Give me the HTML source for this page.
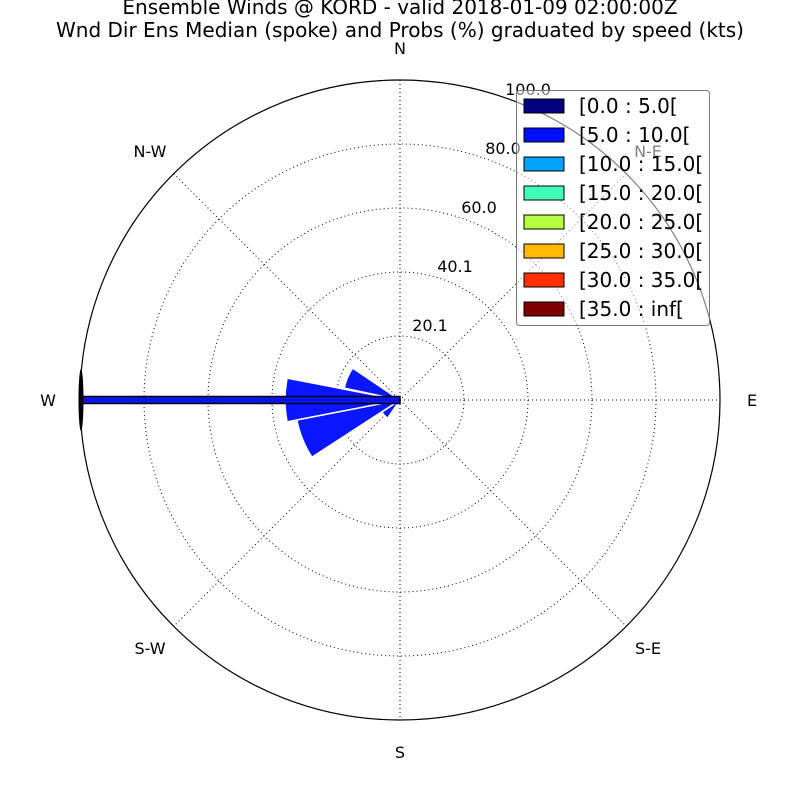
<!DOCTYPE html>
<html><head><meta charset="utf-8"><style>body{margin:0;background:#fff}svg{display:block}text{font-family:"DejaVu Sans","Liberation Sans",sans-serif}</style></head><body>
<svg width="800" height="800" viewBox="0 0 800 800">
<rect width="800" height="800" fill="#fff"/>
<text x="400" y="14" font-size="20" text-anchor="middle">Ensemble Winds @ KORD - valid 2018-01-09 02:00:00Z</text>
<text x="400" y="37" font-size="20" text-anchor="middle">Wnd Dir Ens Median (spoke) and Probs (%) graduated by speed (kts)</text>
<g fill="none" stroke="#000" stroke-width="1" stroke-dasharray="1,3">
<circle cx="400" cy="400" r="64"/><circle cx="400" cy="400" r="128"/><circle cx="400" cy="400" r="192"/><circle cx="400" cy="400" r="256"/>
<line x1="400" y1="80" x2="400" y2="720"/><line x1="80" y1="400" x2="720" y2="400"/>
<line x1="173.7" y1="173.7" x2="626.3" y2="626.3"/><line x1="626.3" y1="173.7" x2="173.7" y2="626.3"/>
</g>
<circle cx="400" cy="400" r="320" fill="none" stroke="#000" stroke-width="1.2"/>
<g fill="#0a16ff" stroke="#fff" stroke-width="1.5">
<path d="M400,400 L287.1,378.1 A115,115 0 0 0 287.1,421.9 Z"/>
<path d="M400,400 L352.7,368.1 A57,57 0 0 0 344.2,388.1 Z"/>
<path d="M400,400 L296.9,420 A105,105 0 0 0 311.9,457.2 Z"/>
<path d="M400,400 L381.8,412.3 A22,22 0 0 0 387.7,418.2 Z"/>
</g>
<rect x="81" y="396.5" width="319" height="7" fill="#0a16ff" stroke="#000" stroke-width="1.5"/>
<line x1="82" y1="400" x2="400" y2="400" stroke="#000" stroke-width="1" stroke-dasharray="1,3"/>
<ellipse cx="81" cy="400" rx="2.5" ry="31" fill="#000"/>
<g font-size="16" text-anchor="middle">
<text x="400" y="54">N</text><text x="648" y="157">N-E</text><text x="752" y="406">E</text>
<text x="648" y="654">S-E</text><text x="400" y="758">S</text><text x="150" y="654">S-W</text>
<text x="48" y="406">W</text><text x="150" y="157">N-W</text>
<text x="430" y="331">20.1</text><text x="455" y="272">40.1</text><text x="479" y="213">60.0</text>
<text x="503" y="154">80.0</text><text x="528" y="95">100.0</text>
</g>
<rect x="516.5" y="90.5" width="193" height="235" rx="3" fill="#fff" fill-opacity="0.5" stroke="#777" stroke-width="1"/>
<g stroke="#000" stroke-width="1">
<rect x="524" y="99" width="40" height="14" fill="#000080"/>
<rect x="524" y="128" width="40" height="14" fill="#0010ff"/>
<rect x="524" y="157" width="40" height="14" fill="#00a4ff"/>
<rect x="524" y="186" width="40" height="14" fill="#40ffb7"/>
<rect x="524" y="215" width="40" height="14" fill="#b7ff40"/>
<rect x="524" y="244" width="40" height="14" fill="#ffb900"/>
<rect x="524" y="273" width="40" height="14" fill="#ff3000"/>
<rect x="524" y="302" width="40" height="14" fill="#800000"/>
</g>
<g font-size="20">
<text x="579" y="113">[0.0 : 5.0[</text>
<text x="579" y="142">[5.0 : 10.0[</text>
<text x="579" y="171">[10.0 : 15.0[</text>
<text x="579" y="200">[15.0 : 20.0[</text>
<text x="579" y="229">[20.0 : 25.0[</text>
<text x="579" y="258">[25.0 : 30.0[</text>
<text x="579" y="287">[30.0 : 35.0[</text>
<text x="579" y="316">[35.0 : inf[</text>
</g>
</svg>
</body></html>
